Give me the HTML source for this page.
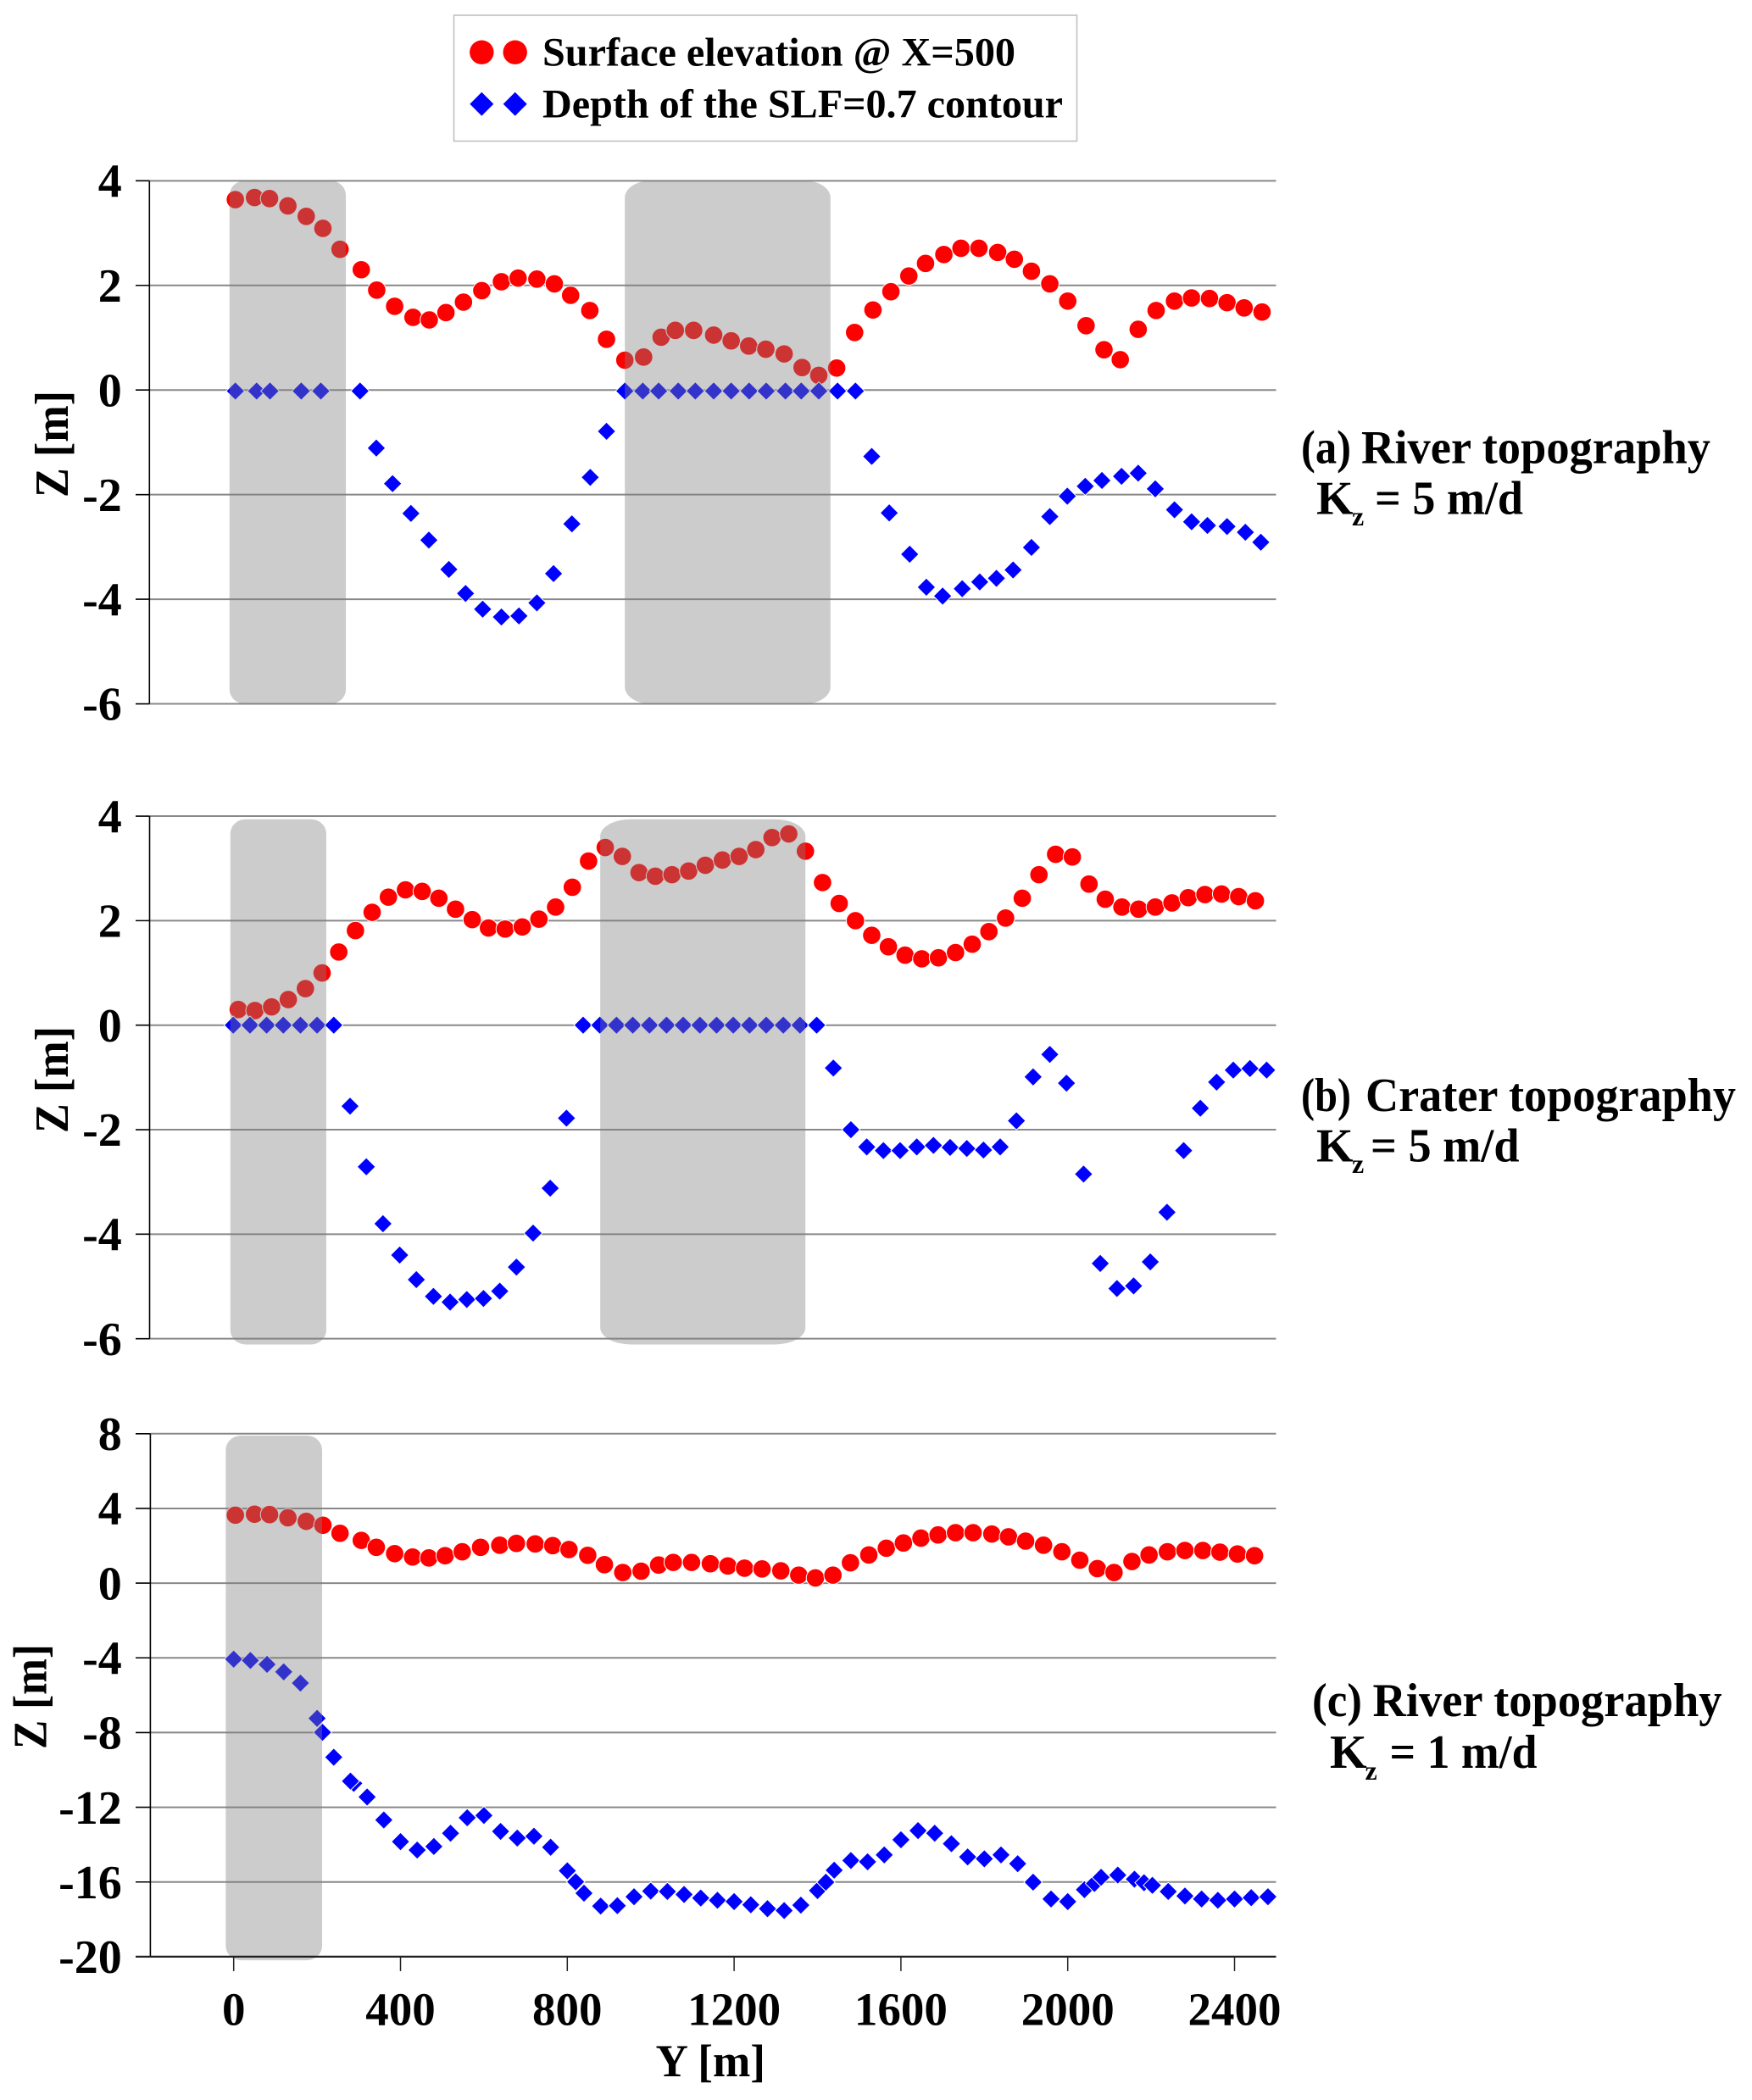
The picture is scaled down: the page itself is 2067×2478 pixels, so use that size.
<!DOCTYPE html>
<html lang="en">
<head>
<meta charset="utf-8">
<title>Surface elevation and SLF contour depth</title>
<style>
html,body{margin:0;padding:0;background:#fff;width:2067px;height:2478px;overflow:hidden}
svg{display:block}
text{font-family:"Liberation Serif",serif;font-weight:bold;fill:#000}
</style>
</head>
<body>
<svg id="figure" xmlns="http://www.w3.org/2000/svg" width="2067" height="2478" viewBox="0 0 2067 2478">
  <rect x="0" y="0" width="2067" height="2478" fill="#fff"/>
  <g id="plots"></g>

  <g>
    <rect x="535.5" y="18" width="735" height="148.5" fill="#fff" stroke="#c0c0c0" stroke-width="1.6"/>
    <g>
      <circle cx="568.3" cy="61.7" r="14.2" fill="#ff0000"/>
      <circle cx="607.7" cy="61.7" r="14.2" fill="#ff0000"/>
      <text x="640" y="77.7" font-size="48" textLength="558" lengthAdjust="spacingAndGlyphs">Surface elevation @ X=500</text>
    </g>
    <g>
      <polygon points="568.3,108.7 582.3,122.7 568.3,136.7 554.3,122.7" fill="#0000ff"/>
      <polygon points="607.7,108.7 621.7,122.7 607.7,136.7 593.7,122.7" fill="#0000ff"/>
      <text x="640" y="138.3" font-size="48" textLength="614" lengthAdjust="spacingAndGlyphs">Depth of the SLF=0.7 contour</text>
    </g>
  </g>

  <g>
    <text x="1535" y="546.7" font-size="56" textLength="59" lengthAdjust="spacingAndGlyphs">(a)</text>
    <text x="1606" y="546.7" font-size="56" textLength="412" lengthAdjust="spacingAndGlyphs">River topography</text>
    <text x="1553" y="606.7" font-size="56">K</text>
    <text x="1595" y="620" font-size="32">z</text>
    <text x="1622" y="606.7" font-size="56" textLength="175" lengthAdjust="spacingAndGlyphs">= 5 m/d</text>
  </g>
  <g>
    <text x="1535" y="1311" font-size="56" textLength="59" lengthAdjust="spacingAndGlyphs">(b)</text>
    <text x="1611" y="1311" font-size="56" textLength="437" lengthAdjust="spacingAndGlyphs">Crater topography</text>
    <text x="1553" y="1370.6" font-size="56">K</text>
    <text x="1595" y="1384" font-size="32">z</text>
    <text x="1617" y="1370.6" font-size="56" textLength="175.5" lengthAdjust="spacingAndGlyphs">= 5 m/d</text>
  </g>
  <g>
    <text x="1548" y="2025" font-size="56" textLength="59" lengthAdjust="spacingAndGlyphs">(c)</text>
    <text x="1619.5" y="2025" font-size="56" textLength="412" lengthAdjust="spacingAndGlyphs">River topography</text>
    <text x="1569" y="2086" font-size="56">K</text>
    <text x="1610.5" y="2100" font-size="32">z</text>
    <text x="1639.5" y="2086" font-size="56" textLength="174" lengthAdjust="spacingAndGlyphs">= 1 m/d</text>
  </g>

  <text transform="translate(80,587) rotate(-90)" font-size="56" textLength="126" lengthAdjust="spacingAndGlyphs">Z [m]</text>
  <text transform="translate(80,1337) rotate(-90)" font-size="56" textLength="126" lengthAdjust="spacingAndGlyphs">Z [m]</text>
  <text transform="translate(54.5,2064) rotate(-90)" font-size="56" textLength="124" lengthAdjust="spacingAndGlyphs">Z [m]</text>
  <text x="773.5" y="2450" font-size="54" textLength="129.5" lengthAdjust="spacingAndGlyphs">Y [m]</text>
</svg>

<script>
// Tick labels
const zTicksUpper = [4, 2, 0, -2, -4, -6];
const zTicksLower = [8, 4, 0, -4, -8, -12, -16, -20];
const yTicks = [0, 400, 800, 1200, 1600, 2000, 2400];

// Panel (a): river topography, Kz = 5 m/d
const aSurfaceY = [4,50,86,130,174,214,255,306,343,386,430,469,509,551,595,642,682,727,769,808,854,894,938,983,1025,1059,1103,1151,1193,1235,1276,1320,1363,1403,1446,1489,1533,1576,1619,1659,1703,1744,1787,1832,1872,1913,1957,2000,2044,2087,2126,2169,2212,2256,2297,2340,2382,2423,2466];
const aSurfaceZ = [3.64,3.68,3.66,3.52,3.32,3.09,2.69,2.30,1.91,1.60,1.39,1.34,1.48,1.68,1.90,2.07,2.14,2.12,2.03,1.81,1.52,0.97,0.57,0.63,1.01,1.14,1.14,1.05,0.94,0.84,0.78,0.69,0.43,0.28,0.42,1.10,1.53,1.88,2.18,2.42,2.59,2.71,2.71,2.63,2.50,2.27,2.03,1.70,1.23,0.77,0.58,1.16,1.52,1.70,1.76,1.75,1.67,1.57,1.49];
const aDepthY = [4,55,87,162,209,303,342,381,425,468,516,556,597,642,684,727,767,811,855,894,938,981,1019,1066,1107,1151,1193,1236,1277,1323,1361,1403,1448,1491,1530,1572,1621,1661,1700,1747,1789,1829,1869,1913,1957,1999,2042,2082,2129,2169,2210,2256,2297,2335,2382,2426,2463];
const aDepthZ = [-0.02,-0.02,-0.02,-0.02,-0.02,-0.02,-1.11,-1.79,-2.36,-2.87,-3.43,-3.89,-4.19,-4.34,-4.32,-4.07,-3.51,-2.56,-1.67,-0.79,-0.02,-0.02,-0.02,-0.02,-0.02,-0.02,-0.02,-0.02,-0.02,-0.02,-0.02,-0.02,-0.02,-0.02,-1.27,-2.35,-3.14,-3.77,-3.94,-3.80,-3.67,-3.60,-3.44,-3.01,-2.42,-2.03,-1.84,-1.73,-1.65,-1.59,-1.89,-2.29,-2.52,-2.59,-2.61,-2.72,-2.91];
const aBandStartY = [-10, 938];
const aBandEndY = [269, 1431];
const aBandTopZ = [4, 4];
const aBandBottomZ = [-6, -6];

// Panel (b): crater topography, Kz = 5 m/d
const bSurfaceY = [11,51,91,131,172,212,252,292,332,371,412,452,492,532,572,611,651,692,732,772,812,851,891,932,972,1011,1051,1091,1131,1172,1212,1252,1291,1331,1371,1412,1452,1491,1530,1570,1610,1650,1690,1731,1771,1811,1851,1891,1931,1971,2011,2051,2090,2130,2170,2210,2250,2289,2329,2369,2410,2450];
const bSurfaceZ = [0.30,0.28,0.35,0.49,0.70,1.00,1.40,1.81,2.16,2.45,2.59,2.56,2.43,2.22,2.02,1.86,1.84,1.88,2.03,2.26,2.64,3.14,3.40,3.23,2.92,2.85,2.88,2.95,3.06,3.16,3.23,3.36,3.59,3.66,3.33,2.73,2.33,2.00,1.72,1.50,1.34,1.27,1.29,1.39,1.55,1.79,2.05,2.43,2.88,3.27,3.22,2.70,2.41,2.26,2.22,2.26,2.34,2.44,2.50,2.51,2.46,2.38];
const bDepthY = [-1,39,79,119,160,200,240,279,318,358,398,438,479,519,559,599,638,678,718,759,798,838,878,918,957,997,1038,1078,1118,1158,1198,1237,1277,1318,1358,1398,1438,1480,1518,1558,1598,1638,1678,1718,1758,1798,1838,1877,1917,1957,1997,2038,2078,2118,2158,2198,2238,2278,2318,2357,2397,2437,2477];
const bDepthZ = [0,0,0,0,0,0,0,-1.55,-2.71,-3.80,-4.40,-4.87,-5.19,-5.30,-5.25,-5.23,-5.09,-4.63,-3.98,-3.12,-1.78,0,0,0,0,0,0,0,0,0,0,0,0,0,0,0,-0.82,-2.00,-2.33,-2.40,-2.40,-2.33,-2.30,-2.34,-2.36,-2.39,-2.33,-1.83,-0.99,-0.56,-1.11,-2.85,-4.56,-5.04,-4.99,-4.53,-3.58,-2.40,-1.59,-1.09,-0.86,-0.83,-0.86];
const bBandStartY = [-8, 879];
const bBandEndY = [222, 1371];
const bBandTopZ = [3.94, 3.94];
const bBandBottomZ = [-6.11, -6.11];

// Panel (c): river topography, Kz = 1 m/d
const cSurfaceY = [4,50,86,130,174,214,255,306,342,386,429,468,507,548,592,638,678,723,765,804,849,889,933,977,1019,1054,1098,1143,1185,1225,1267,1312,1355,1395,1437,1479,1523,1565,1606,1648,1689,1731,1773,1818,1858,1899,1942,1986,2029,2071,2111,2154,2195,2239,2281,2324,2365,2407,2448];
const cSurfaceZ = [3.64,3.69,3.67,3.50,3.31,3.10,2.67,2.29,1.92,1.58,1.40,1.35,1.47,1.68,1.92,2.03,2.13,2.10,2.01,1.80,1.49,0.99,0.57,0.64,0.97,1.11,1.11,1.04,0.92,0.80,0.76,0.66,0.43,0.28,0.43,1.09,1.51,1.87,2.15,2.41,2.58,2.70,2.70,2.63,2.48,2.25,2.03,1.68,1.23,0.78,0.57,1.16,1.51,1.68,1.75,1.75,1.66,1.56,1.47];
const cDepthY = [0,40,80,120,160,200,213,240,288,280,320,360,400,440,480,520,560,600,640,680,720,760,800,820,840,880,920,960,1000,1040,1080,1120,1160,1200,1240,1280,1320,1360,1400,1420,1440,1480,1520,1560,1600,1641,1681,1721,1760,1800,1840,1880,1917,1960,2000,2040,2064,2080,2120,2160,2183,2203,2241,2281,2321,2360,2400,2440,2480];
const cDepthZ = [-4.07,-4.14,-4.35,-4.75,-5.35,-7.24,-7.99,-9.32,-10.72,-10.60,-11.45,-12.68,-13.84,-14.29,-14.10,-13.39,-12.56,-12.44,-13.29,-13.65,-13.55,-14.14,-15.40,-15.99,-16.60,-17.29,-17.27,-16.79,-16.49,-16.51,-16.67,-16.86,-16.98,-17.05,-17.22,-17.43,-17.53,-17.24,-16.46,-16.01,-15.37,-14.85,-14.92,-14.55,-13.74,-13.25,-13.39,-13.95,-14.66,-14.76,-14.55,-15.02,-16.01,-16.91,-17.05,-16.41,-16.08,-15.75,-15.63,-15.85,-16.04,-16.18,-16.51,-16.75,-16.91,-16.98,-16.91,-16.84,-16.79];
const cBandStartY = [-19];
const cBandEndY = [212];
const cBandTopZ = [7.9];
const cBandBottomZ = [-20.19];

const SVG_NS = 'http://www.w3.org/2000/svg';
const plots = document.getElementById('plots');
const PLOT_RIGHT = 1505.5;
const xScale = function (y) { return 275.7 + 0.492 * y; };

function make(tag, attrs, parent) {
  const el = document.createElementNS(SVG_NS, tag);
  for (const k in attrs) el.setAttribute(k, attrs[k]);
  parent.appendChild(el);
  return el;
}

function drawPanel(id, zero, pxPerUnit, axisX, zTicks, surfaceY, surfaceZ, depthY, depthZ, bandStart, bandEnd, bandTop, bandBottom, largeRadius) {
  const zScale = function (z) { return zero - z * pxPerUnit; };
  const group = make('g', {}, plots);
  
  

  zTicks.forEach(function (t) {
    const yy = zScale(t);
    const grid = make('line', { x1: axisX, x2: PLOT_RIGHT, y1: yy, y2: yy, stroke: '#888', 'stroke-width': 2 }, group);
    
    
    const tick = make('line', { x1: 160, x2: axisX, y1: yy, y2: yy, stroke: '#000', 'stroke-width': 1.6 }, group);
    
    
    const label = make('text', { x: 143.8, y: yy + 19.2, 'font-size': 56, 'text-anchor': 'end' }, group);
    label.textContent = String(t);
    
    
  });

  const axis = make('line', { x1: axisX, x2: axisX, y1: zScale(zTicks[0]), y2: zScale(zTicks[zTicks.length - 1]), stroke: '#000', 'stroke-width': 1.6 }, group);
  
  

  surfaceY.forEach(function (y, i) {
    const c = make('circle', { cx: xScale(y), cy: zScale(surfaceZ[i]), r: 10.8, fill: '#ff0000', stroke: '#fff', 'stroke-width': 1 }, group);
    
    
  });

  depthY.forEach(function (y, i) {
    const cx = xScale(y), cy = zScale(depthZ[i]), h = 10.8;
    const pts = [cx, cy - h, cx + h, cy, cx, cy + h, cx - h, cy].join(' ');
    const d = make('polygon', { points: pts, fill: '#0000ff', stroke: '#fff', 'stroke-width': 1 }, group);
    
    
  });

  bandStart.forEach(function (s, i) {
    const x0 = xScale(s), x1 = xScale(bandEnd[i]);
    const y0 = zScale(bandTop[i]), y1 = zScale(bandBottom[i]);
    const wide = (x1 - x0) > 180;
    const b = make('rect', { x: x0, y: y0, width: x1 - x0, height: y1 - y0, rx: wide ? largeRadius : 18, ry: wide ? 20 : 17, fill: 'rgba(127,127,127,0.4)' }, group);
    
    
  });
  return group;
}

drawPanel('a', 460.2, 61.72, 176.3, zTicksUpper, aSurfaceY, aSurfaceZ, aDepthY, aDepthZ, aBandStartY, aBandEndY, aBandTopZ, aBandBottomZ, 30);
drawPanel('b', 1209.7, 61.66, 176.5, zTicksUpper, bSurfaceY, bSurfaceZ, bDepthY, bDepthZ, bBandStartY, bBandEndY, bBandTopZ, bBandBottomZ, 36);
const panelC = drawPanel('c', 1868.1, 22.04, 177.4, zTicksLower, cSurfaceY, cSurfaceZ, cDepthY, cDepthZ, cBandStartY, cBandEndY, cBandTopZ, cBandBottomZ, 30);

const xAxisY = 1868.1 + 20 * 22.04;
const xAxisLine = make('line', { x1: 160, x2: PLOT_RIGHT, y1: xAxisY, y2: xAxisY, stroke: '#222', 'stroke-width': 2.2 }, panelC);


yTicks.forEach(function (t) {
  const xx = xScale(t);
  const mark = make('line', { x1: xx, x2: xx, y1: xAxisY, y2: xAxisY + 17, stroke: '#222', 'stroke-width': 1.5 }, panelC);
  
  
  const label = make('text', { x: xx, y: 2389.3, 'font-size': 55, 'text-anchor': 'middle' }, panelC);
  label.textContent = String(t);
  
  
});
</script>
</body>
</html>
